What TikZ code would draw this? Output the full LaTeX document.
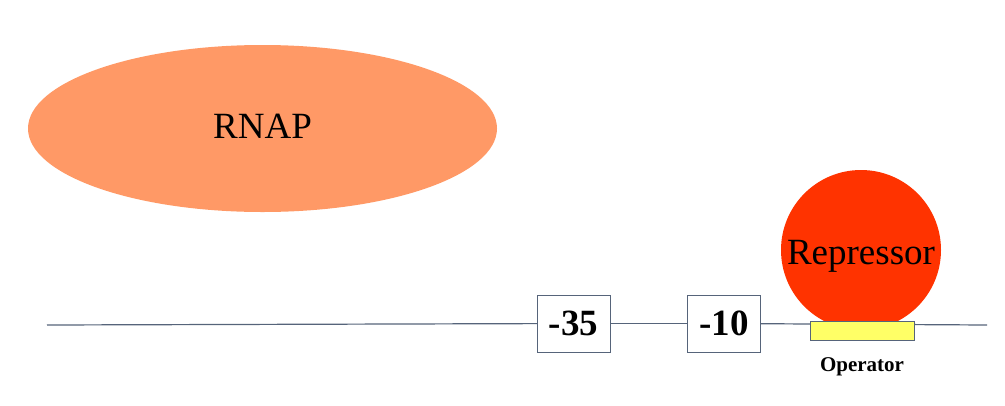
\documentclass[tikz,border=0pt]{standalone}
\usepackage{fontspec}
\setmainfont{Liberation Serif}
\usetikzlibrary{positioning, shapes.geometric}

\definecolor{dnaline}{HTML}{56647A}
\definecolor{rnapfill}{HTML}{FF9966}
\definecolor{repfill}{HTML}{FF3300}
\definecolor{opfill}{HTML}{FFFF66}

\tikzset{
    site/.style={draw=dnaline, fill=white, minimum width=73pt, minimum height=57pt,
                 font=\fontsize{37}{40}\selectfont\bfseries, inner sep=0pt},
    bigtext/.style={font=\fontsize{37}{40}\selectfont},
}

\begin{document}
\begin{tikzpicture}[x=1pt, y=-1pt]
        \useasboundingbox (0,0) rectangle (1005,405);

        \node[ellipse, fill=rnapfill, minimum width=469pt, minimum height=167pt,
              bigtext, text depth=4pt]                    (rnap) at (262.5,128.5) {RNAP};

        \coordinate (dnaL) at (47,325);
        \coordinate (dnaR) at (987,325);
        \node[site]                                       (m35)  at (573.5,323.5) {-35};
        \node[site, right=77pt of m35]                    (m10)  {-10};

        \draw[dnaline, line width=1.2pt] (dnaL) -- (m35);
        \draw[dnaline, line width=1.2pt] (m35) -- (m10);
        \draw[dnaline, line width=1.2pt] (m10) -- (dnaR);

        \node[circle, fill=repfill, minimum size=160pt, inner sep=0pt,
              label={[bigtext, yshift=-6pt]center:Repressor}] (rep) at (861,250) {};
        \node[draw=dnaline, fill=opfill, minimum width=104pt, minimum height=19pt,
              inner sep=0pt]                              (op)   at (862,330.5) {};
        \node[below=14pt of op, font=\fontsize{21}{24}\selectfont\bfseries] (oplabel) {Operator};
      \end{tikzpicture}
\end{document}
